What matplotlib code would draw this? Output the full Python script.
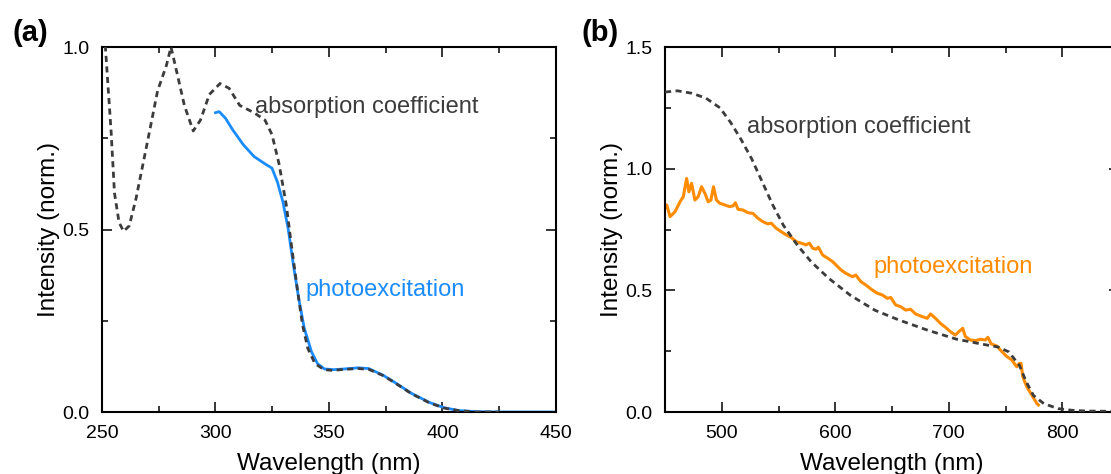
#!/usr/bin/env python3
"""Two-panel spectra: absorption coefficient (dashed) vs photoexcitation spectra."""
import matplotlib

matplotlib.use("Agg")
import matplotlib.pyplot as plt
from matplotlib.ticker import FormatStrFormatter, MultipleLocator

# (a) UV region
abs_a_wl = [250, 251.5, 254, 255.5, 257.5, 259.5, 262, 265, 269.7, 274.5, 278.4, 280.4,
            283, 286.3, 290.2, 293.4, 297.3, 302, 306, 310.7, 317, 321.8, 324.9, 328,
            331.2, 333.6, 336, 338.3, 340.7, 343.8, 347.8, 351.7, 357, 362.8, 367.5,
            373.8, 378.5, 386.4, 394.3, 400.6, 407, 414.8, 425]
abs_a_val = [1.12, 1.0, 0.77, 0.60, 0.52, 0.495, 0.51, 0.585, 0.73, 0.88, 0.95, 1.0,
             0.93, 0.84, 0.77, 0.80, 0.87, 0.90, 0.887, 0.84, 0.82, 0.80, 0.76, 0.68,
             0.567, 0.45, 0.34, 0.24, 0.174, 0.133, 0.116, 0.114, 0.117, 0.119, 0.117,
             0.10, 0.082, 0.05, 0.025, 0.011, 0.004, 0.0, 0.0]
pe_a_wl = [300, 301.6, 304.4, 307.6, 312.3, 317, 321.8, 324.9, 327.3, 329.7, 332,
           334.4, 336.7, 339.1, 342.3, 345, 348, 352, 357, 362.8, 367.5, 373.8, 378.5,
           386.4, 394.3, 400.6, 407, 415, 425, 450]
pe_a_val = [0.82, 0.823, 0.805, 0.773, 0.732, 0.70, 0.68, 0.668, 0.63, 0.576, 0.503,
            0.40, 0.31, 0.23, 0.165, 0.132, 0.118, 0.116, 0.118, 0.121, 0.119,
            0.101, 0.083, 0.051, 0.026, 0.012, 0.004, 0.001, 0.0, 0.0]

# (b) visible region
abs_b_wl = [450, 461, 473.6, 486, 498.4, 507.8, 517, 526.4, 535.7, 545, 554.3, 566.7,
            579, 594.6, 613.2, 635, 656.7, 681.5, 706.3, 728, 743.5, 752.9, 762.2,
            768.4, 774.6, 783.9, 796.3, 808.7, 821, 840, 850]
abs_b_val = [1.315, 1.32, 1.31, 1.29, 1.25, 1.19, 1.12, 1.04, 0.945, 0.85, 0.767,
             0.685, 0.616, 0.548, 0.48, 0.418, 0.377, 0.336, 0.30, 0.28, 0.267, 0.247,
             0.192, 0.123, 0.068, 0.034, 0.014, 0.007, 0.004, 0.003, 0.003]
pe_b_wl = [450, 451.5, 454.4, 458.8, 463.2, 466.1, 469, 471, 473.4, 476.3, 479.2,
           482.2, 485.1, 488, 490.4, 492.7, 495.3, 498.2, 502.6, 507, 509.9, 512,
           514.3, 518.7, 523.1, 527.5, 531.9, 536.3, 540.6, 543.6, 548, 552.3, 556.7,
           561.1, 565.5, 569.9, 574.3, 577.2, 580.1, 583, 585.1, 588.9, 593.3, 597.7,
           602, 605, 609.3, 615.2, 618.1, 622.5, 626.9, 632.7, 637.1, 641.5, 645.9,
           648.8, 653.2, 657.6, 662, 666.4, 670.8, 676.6, 681, 683.9, 688.3, 692.7,
           697.1, 701.5, 705.8, 708.8, 712.3, 714.6, 719, 723.4, 727.8, 732.2, 734.5,
           737.4, 742.4, 746.8, 751.2, 755.5, 759.9, 762.3, 763.7, 765.2, 768.7,
           773.1, 777.5, 779]
pe_b_val = [0.84, 0.851, 0.803, 0.823, 0.864, 0.885, 0.96, 0.905, 0.94, 0.871, 0.885,
            0.926, 0.899, 0.864, 0.871, 0.926, 0.871, 0.858, 0.851, 0.844, 0.847, 0.86,
            0.833, 0.83, 0.819, 0.816, 0.796, 0.782, 0.773, 0.776, 0.755, 0.741, 0.728,
            0.718, 0.70, 0.694, 0.687, 0.694, 0.673, 0.669, 0.677, 0.645, 0.632, 0.618,
            0.598, 0.584, 0.57, 0.556, 0.563, 0.536, 0.522, 0.501, 0.488, 0.481, 0.467,
            0.471, 0.44, 0.433, 0.419, 0.422, 0.403, 0.392, 0.385, 0.403, 0.385, 0.364,
            0.348, 0.33, 0.316, 0.33, 0.344, 0.31, 0.296, 0.293, 0.299, 0.296, 0.307,
            0.28, 0.271, 0.248, 0.228, 0.214, 0.186, 0.2, 0.2, 0.145, 0.104,
            0.07, 0.036, 0.029]

DASH = "#3c3c3c"
BLUE = "#1a8cff"
ORANGE = "#ff8c00"

plt.rcParams.update({"font.family": ["Liberation Sans", "DejaVu Sans"],
                     "font.size": 14})

fig = plt.figure(figsize=(11.11, 4.74), dpi=100)
axA = fig.add_axes([0.0918, 0.1308, 0.4086, 0.770])
axB = fig.add_axes([0.5986, 0.1308, 0.4086, 0.770])

axA.plot(pe_a_wl, pe_a_val, "-", lw=2.0, color=BLUE, zorder=2)
axA.plot(abs_a_wl, abs_a_val, "--", lw=2.0, color=DASH, dashes=(2.2, 1.6), zorder=3)
axA.set_xlim(250, 450)
axA.set_ylim(0, 1.0)
axA.xaxis.set_major_locator(MultipleLocator(50))
axA.xaxis.set_minor_locator(MultipleLocator(25))
axA.yaxis.set_major_locator(MultipleLocator(0.5))
axA.yaxis.set_minor_locator(MultipleLocator(0.25))
axA.text(317.6, 0.836, "absorption coefficient", color=DASH, fontsize=17,
         ha="left", va="center")
axA.text(339.6, 0.334, "photoexcitation", color=BLUE, fontsize=17,
         ha="left", va="center")

axB.plot(pe_b_wl, pe_b_val, "-", lw=2.2, color=ORANGE, zorder=2)
axB.plot(abs_b_wl, abs_b_val, "--", lw=2.0, color=DASH, dashes=(2.2, 1.6), zorder=3)
axB.set_xlim(450, 850)
axB.set_ylim(0, 1.5)
axB.xaxis.set_major_locator(MultipleLocator(100))
axB.xaxis.set_minor_locator(MultipleLocator(50))
axB.yaxis.set_major_locator(MultipleLocator(0.5))
axB.yaxis.set_minor_locator(MultipleLocator(0.25))
axB.text(522.4, 1.173, "absorption coefficient", color=DASH, fontsize=17,
         ha="left", va="center")
axB.text(633.3, 0.597, "photoexcitation", color=ORANGE, fontsize=17,
         ha="left", va="center")

for ax in (axA, axB):
    ax.yaxis.set_major_formatter(FormatStrFormatter("%.1f"))
    ax.tick_params(which="both", direction="in", top=True, right=True,
                   width=1.1, labelsize=14, pad=9)
    ax.tick_params(which="major", length=7.5)
    ax.tick_params(which="minor", length=4.5)
    for sp in ax.spines.values():
        sp.set_linewidth(1.5)
    ax.set_xlabel("Wavelength (nm)", fontsize=17.5, labelpad=8)
    ax.set_ylabel("Intensity (norm.)", fontsize=17.5, labelpad=2)

fig.text(0.011, 0.93, "(a)", fontsize=21, fontweight="bold", va="center")
fig.text(0.523, 0.93, "(b)", fontsize=21, fontweight="bold", va="center")

fig.savefig("out.png", dpi=100)
